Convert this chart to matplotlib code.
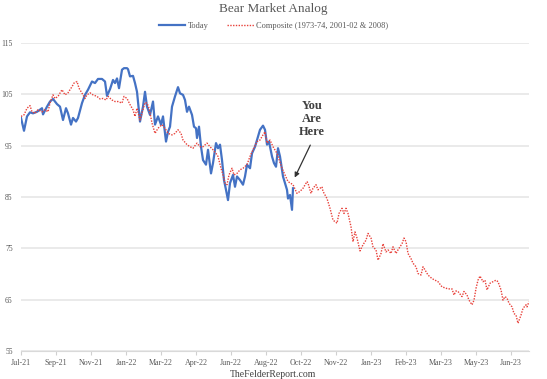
import matplotlib
matplotlib.use("Agg")
import matplotlib.pyplot as plt

# ---- data (trading-day index, value) ----
today_day = [0, 3, 6, 9, 12, 16, 21, 22, 26, 29, 32, 36, 39, 42, 45, 47, 50, 52, 55, 57,
             61, 64, 67, 71, 74, 77, 81, 84, 86, 89, 92, 94, 96, 98, 101, 103, 106, 107, 109, 112,
             114, 116, 119, 122, 124, 126, 129, 132, 134, 137, 140, 142, 145, 147, 149, 151, 154, 157, 159, 162,
             164, 166, 168, 171, 173, 175, 176, 178, 180, 182, 185, 187, 190, 192, 195, 197, 199, 201, 203, 205,
             207, 209, 212, 214, 216, 219, 222, 224, 226, 229, 231, 234, 236, 239, 242, 244, 246, 248, 251, 253,
             255, 257, 259, 262, 266, 267, 269, 271, 272]
today_val = [100.4, 97.9, 100.7, 101.5, 101.3, 101.6, 102.3, 101.1, 102.6, 103.6, 104.1, 103.1, 102.6, 100.0, 102.3, 101.3, 99.1, 100.4, 99.7, 100.4,
             103.3, 104.9, 105.9, 107.5, 107.2, 108.0, 108.0, 107.5, 104.7, 106.0, 107.8, 107.2, 108.1, 106.2, 109.8, 110.1, 110.1, 109.9, 108.5, 108.6,
             107.2, 105.5, 99.7, 102.6, 105.5, 102.6, 101.0, 103.6, 99.1, 100.7, 99.1, 100.7, 95.8, 97.7, 98.7, 102.6, 104.6, 106.4, 105.2, 104.9,
             103.9, 101.6, 102.6, 101.0, 98.7, 98.4, 96.5, 98.7, 94.8, 92.2, 91.3, 94.2, 89.6, 91.6, 95.5, 94.5, 95.2, 92.2, 88.3, 86.4,
             84.4, 87.7, 89.3, 87.0, 89.0, 88.3, 87.4, 89.0, 91.3, 90.6, 93.5, 94.8, 96.1, 98.1, 98.9, 98.1, 95.2, 95.8, 92.9, 91.6,
             90.9, 94.5, 92.9, 89.0, 86.4, 84.7, 85.4, 82.5, 86.7]

comp_day = [0, 3, 6, 9, 11, 14, 17, 21, 24, 27, 29, 32, 34, 37, 41, 44, 47, 51, 53, 56,
            58, 62, 64, 66, 69, 72, 76, 79, 82, 85, 87, 91, 94, 97, 101, 103, 106, 109, 112, 114,
            116, 119, 122, 124, 126, 128, 131, 134, 137, 141, 144, 147, 151, 154, 157, 160, 162, 166, 169, 172,
            176, 179, 182, 186, 189, 192, 195, 197, 200, 202, 204, 206, 208, 211, 213, 216, 219, 222, 226, 229,
            232, 236, 239, 242, 244, 246, 249, 252, 256, 261, 264, 267, 272, 276, 279, 282, 286, 287, 290, 292,
            295, 297, 301, 302, 306, 309, 312, 316, 318, 321, 323, 325, 327, 330, 332, 334, 336, 339, 342, 345,
            347, 350, 352, 355, 357, 360, 362, 365, 367, 370, 372, 375, 377, 381, 383, 385, 387, 390, 392, 395,
            397, 400, 402, 404, 407, 411, 414, 417, 421, 424, 427, 431, 433, 435, 437, 441, 443, 446, 448, 451,
            453, 455, 457, 459, 462, 464, 466, 469, 472, 475, 477, 480, 482, 484, 486, 488, 491, 493, 495, 497,
            500, 502, 505, 506, 508]
comp_val = [100.7, 101.0, 102.3, 102.8, 101.6, 101.3, 102.0, 101.6, 102.0, 101.6, 103.3, 104.9, 104.2, 104.6, 105.9, 104.9, 105.3, 106.5, 107.2, 107.5,
            106.2, 104.9, 104.2, 104.9, 105.3, 104.9, 104.6, 104.1, 104.2, 103.9, 104.6, 103.9, 103.6, 103.6, 103.3, 104.6, 104.2, 103.0, 102.0, 100.7,
            102.3, 100.0, 102.0, 103.4, 103.3, 102.3, 99.4, 97.4, 98.4, 99.1, 98.4, 97.4, 97.1, 97.4, 98.1, 97.4, 96.1, 95.2, 94.8, 94.5,
            95.5, 94.8, 94.8, 95.5, 94.8, 94.2, 93.5, 92.9, 90.6, 89.3, 87.7, 87.4, 89.3, 90.6, 89.3, 89.6, 90.3, 90.6, 91.3, 92.9,
            94.2, 95.8, 96.1, 97.1, 97.7, 95.5, 96.1, 94.8, 93.5, 90.6, 89.3, 88.0, 87.4, 85.7, 86.1, 86.7, 88.0, 87.7, 85.7, 86.7,
            87.4, 86.4, 87.0, 86.1, 84.7, 82.8, 80.5, 79.9, 81.8, 82.8, 81.8, 82.8, 81.8, 79.2, 76.3, 78.2, 77.0, 74.5, 75.7, 76.6,
            77.9, 77.0, 75.3, 74.7, 72.7, 74.0, 75.9, 74.3, 74.7, 74.0, 75.3, 74.0, 74.7, 75.9, 77.0, 76.3, 74.0, 73.0, 72.1, 71.4,
            70.1, 69.8, 71.4, 70.8, 69.8, 69.1, 68.8, 68.5, 67.5, 67.3, 67.1, 67.1, 65.9, 66.7, 66.6, 65.6, 66.6, 65.9, 64.9, 64.0,
            64.9, 67.2, 68.8, 69.6, 68.5, 68.8, 66.9, 68.2, 68.5, 68.8, 68.5, 66.9, 64.9, 65.6, 65.3, 64.3, 63.6, 62.3, 62.0, 60.4,
            62.0, 63.3, 64.0, 63.6, 64.6]

tick_days = [0, 35, 70, 105, 140, 175, 210, 245, 280, 315, 350, 385, 420, 455, 490]
tick_labels = ["Jul-21", "Sep-21", "Nov-21", "Jan-22", "Mar-22", "Apr-22", "Jun-22", "Aug-22",
               "Oct-22", "Nov-22", "Jan-23", "Feb-23", "Mar-23", "May-23", "Jun-23"]
y_ticks = [55, 65, 75, 85, 95, 105, 115]

plt.rcParams['font.family'] = ['Liberation Serif', 'DejaVu Serif']
txt = '#595959'

fig = plt.figure(figsize=(5.47, 3.79), dpi=100)
ax = fig.add_axes([0.0384, 0.0739, 0.9287, 0.8126])

ax.plot(today_day, today_val, color='#4472C4', lw=1.6, label='Today', zorder=3)
ax.plot(comp_day, comp_val, color='#E8413A', lw=1.0, ls=(0, (1, 1)),
        label='Composite (1973-74, 2001-02 & 2008)', zorder=4)

ax.set_xlim(0, 508)
ax.set_ylim(55, 115)
ax.set_yticks(y_ticks)
ax.set_yticklabels([str(v) for v in y_ticks], fontsize=5.5, color=txt)
ax.set_xticks(tick_days)
ax.set_xticklabels(tick_labels, fontsize=5.8, color=txt)
ax.tick_params(axis='y', length=0, pad=6)
ax.tick_params(axis='x', length=3, color='#d0d0d0', width=0.8, pad=2.5)
ax.grid(axis='y', color='#e6e6e6', lw=1.2, zorder=0)
for s in ['top', 'right', 'left']:
    ax.spines[s].set_visible(False)
ax.spines['bottom'].set_color('#d9d9d9')
ax.spines['bottom'].set_linewidth(0.8)

fig.text(0.5, 0.993, 'Bear Market Analog', ha='center', va='top', fontsize=9.5, color=txt)
leg = fig.legend(loc='upper center', bbox_to_anchor=(0.5, 0.963), ncol=2, frameon=False,
                 fontsize=6, handlelength=3.2, handletextpad=0.3, columnspacing=2.2)
for t in leg.get_texts():
    t.set_color(txt)

ax.text(291, 100.2, 'You\nAre\nHere', ha='center', va='center', fontsize=9, fontweight='bold',
        color='#404040', linespacing=1.1)
ax.annotate('', xy=(272.5, 88.3), xytext=(290.5, 95.6),
            arrowprops=dict(arrowstyle='-|>', color='#333333', lw=0.9, mutation_scale=7))

fig.text(0.5, 0.0, 'TheFelderReport.com', ha='center', va='bottom', fontsize=7, color='#404040')

fig.savefig('out.png', dpi=100)
